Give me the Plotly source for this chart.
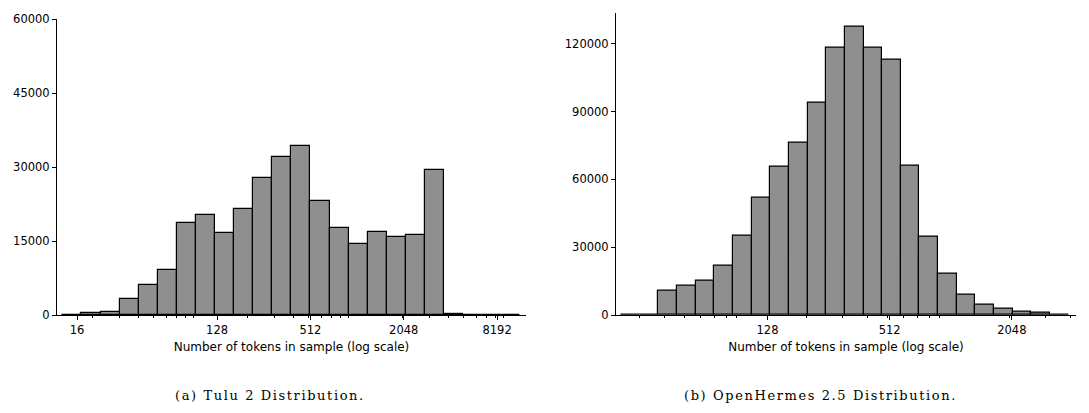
import numpy as np
import plotly.graph_objects as go

# ---------------- data ----------------
# Tulu 2: log-spaced histogram bins (first edge in tokens, log2 bin width)
tulu_first_edge = 12.86
tulu_log2_width = 0.409
tulu_counts = [100, 340, 670, 3290, 6180, 9070, 18610, 20290, 16600, 21500,
               27750, 32050, 34330, 23180, 17670, 14450, 16860, 15860, 16260,
               29430, 250, 40, 20, 10]

# OpenHermes 2.5
oh_first_edge = 24.25
oh_log2_width = 0.3055
oh_counts = [0, 0, 10900, 12970, 15330, 21820, 35230, 52040, 65750, 76220,
             94050, 118230, 127370, 118230, 112780, 66190, 34640, 18130, 8850,
             4570, 2800, 1470, 880, 300]

tulu_xticks = [16, 128, 512, 2048, 8192]
oh_xticks = [128, 512, 2048]
tulu_yticks = [0, 15000, 30000, 45000, 60000]
oh_yticks = [0, 30000, 60000, 90000, 120000]

x_title = "Number of tokens in sample (log scale)"
caption_a = "(a) Tulu 2 Distribution."
caption_b = "(b) OpenHermes 2.5 Distribution."

# ---------------- helpers ----------------
def bars(first_edge, width, counts):
    start = np.log2(first_edge)
    n = len(counts)
    left = start + width * np.arange(n)
    centers = left + width / 2
    return centers, [width] * n


def minor_vals(lo, hi):
    vals = []
    for d in range(0, 6):
        for k in range(2, 10):
            v = k * 10 ** d
            lv = np.log2(v)
            if lo < lv < hi:
                vals.append(lv)
    return vals


FONT = "DejaVu Sans"
fill = "#8f8f8f"

fig = go.Figure()

tx, tw = bars(tulu_first_edge, tulu_log2_width, tulu_counts)
fig.add_trace(go.Bar(x=tx, y=tulu_counts, width=tw, xaxis="x", yaxis="y",
                     marker=dict(color=fill, line=dict(color="black", width=1.2)),
                     showlegend=False))

ox, ow = bars(oh_first_edge, oh_log2_width, oh_counts)
fig.add_trace(go.Bar(x=ox, y=oh_counts, width=ow, xaxis="x2", yaxis="y2",
                     marker=dict(color=fill, line=dict(color="black", width=1.2)),
                     showlegend=False))

W, H = 1089, 413
left_range = [3.57, 13.62]
right_range = [4.52, 12.05]

axis_common = dict(showline=True, linecolor="black", linewidth=1, ticks="outside",
                   ticklen=4, tickwidth=1, tickcolor="black", showgrid=False,
                   zeroline=False, automargin=False,
                   tickfont=dict(family=FONT, size=11.5, color="black"))

title_font = dict(family=FONT, size=12, color="black")

fig.update_layout(
    width=W, height=H,
    margin=dict(l=0, r=0, t=0, b=0, pad=0),
    plot_bgcolor="white", paper_bgcolor="white",
    bargap=0,
    xaxis=dict(domain=[57 / W, 526 / W], range=left_range, anchor="y",
               tickmode="array", tickvals=[np.log2(v) for v in tulu_xticks],
               ticktext=[str(v) for v in tulu_xticks],
               minor=dict(tickmode="array", tickvals=minor_vals(*left_range),
                          ticks="outside", ticklen=2, tickcolor="black", showgrid=False),
               title=dict(text=x_title, font=title_font, standoff=6),
               **axis_common),
    yaxis=dict(domain=[(H - 315) / H, (H - 19) / H], range=[0, 60000], anchor="x",
               tickmode="array", tickvals=tulu_yticks,
               ticktext=[str(v) for v in tulu_yticks], **axis_common),
    xaxis2=dict(domain=[616 / W, 1076 / W], range=right_range, anchor="y2",
                tickmode="array", tickvals=[np.log2(v) for v in oh_xticks],
                ticktext=[str(v) for v in oh_xticks],
                minor=dict(tickmode="array", tickvals=minor_vals(*right_range),
                           ticks="outside", ticklen=2, tickcolor="black", showgrid=False),
                title=dict(text=x_title, font=title_font, standoff=6),
                **axis_common),
    yaxis2=dict(domain=[(H - 315) / H, (H - 12.7) / H], range=[0, max(oh_counts) * 1.05],
                anchor="x2", tickmode="array", tickvals=oh_yticks,
                ticktext=[str(v) for v in oh_yticks], **axis_common),
)

for text, xc in [(caption_a, 270), (caption_b, 820)]:
    fig.add_annotation(text='<span style="letter-spacing:1.6px">' + text + '</span>',
                       x=xc / W, y=(H - 395) / H, xref="paper", yref="paper",
                       showarrow=False, xanchor="center", yanchor="middle",
                       font=dict(family="DejaVu Serif", size=13, color="black"))

fig.write_html("out.html", config={"displayModeBar": False},
               post_script="document.body.style.margin='0';")
